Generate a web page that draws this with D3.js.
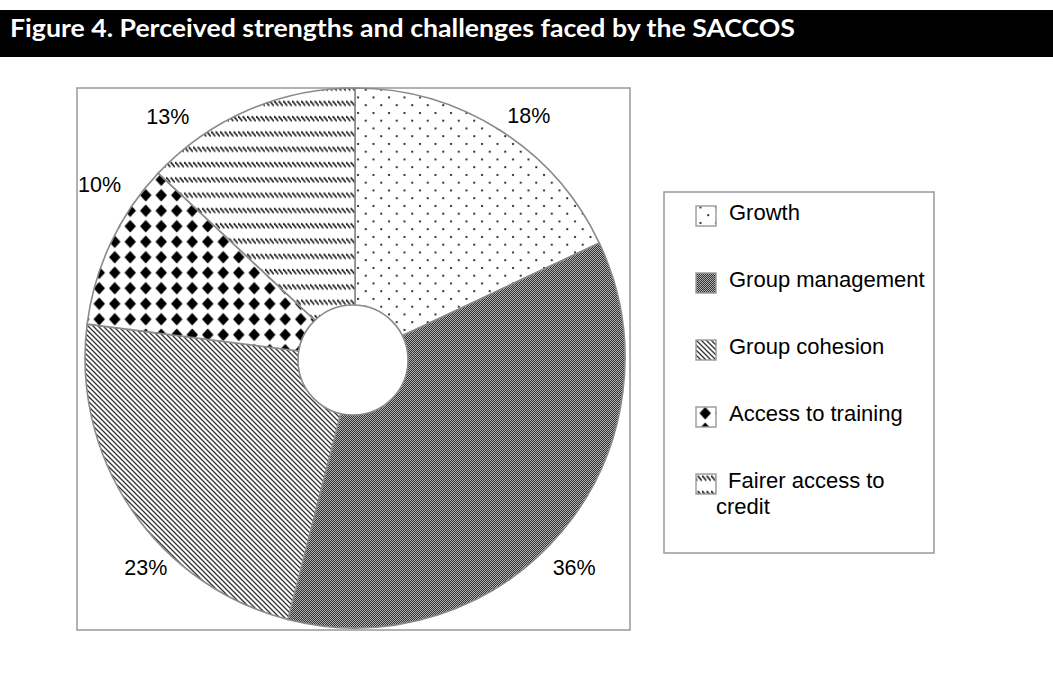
<!DOCTYPE html>
<html>
<head>
<meta charset="utf-8">
<script src="https://cdn.jsdelivr.net/npm/d3@7"></script>
<style>
  body { margin: 0; background: #fff; }
  svg { display: block; }
</style>
</head>
<body>
<script>
// chart data
var title = "Figure 4. Perceived strengths and challenges faced by the SACCOS";
var categories = ["Growth", "Group management", "Group cohesion", "Access to training", "Fairer access to credit"];
var values = [18, 36, 23, 10, 13];
var legendLines = [["Growth"], ["Group management"], ["Group cohesion"], ["Access to training"], [" Fairer access to", "credit"]];
var patternIds = ["pDots", "pGrid", "pDiag", "pDiamond", "pDash"];

var W = 1053, H = 679;
var cx = 355, cy = 358, outerR = 270, innerR = 55;
var FONT = "'Liberation Sans', Arial, sans-serif";

var svg = d3.select("body").append("svg")
    .attr("width", W)
    .attr("height", H);

var defs = svg.append("defs");

// --- fill patterns (imitating the old excel hatches) ---
var p;
p = defs.append("pattern").attr("id", "pDots").attr("patternUnits", "userSpaceOnUse")
    .attr("width", 15.5).attr("height", 15.5);
p.append("rect").attr("width", 15.5).attr("height", 15.5).attr("fill", "#fff");
p.append("circle").attr("cx", 3).attr("cy", 3).attr("r", 1.1).attr("fill", "#111");
p.append("circle").attr("cx", 10.75).attr("cy", 10.75).attr("r", 1.1).attr("fill", "#111");

p = defs.append("pattern").attr("id", "pGrid").attr("patternUnits", "userSpaceOnUse")
    .attr("width", 2).attr("height", 2);
p.append("rect").attr("width", 2).attr("height", 2).attr("fill", "#b0b0b0");
p.append("rect").attr("width", 1).attr("height", 1).attr("fill", "#333");
p.append("rect").attr("x", 1).attr("y", 1).attr("width", 1).attr("height", 1).attr("fill", "#333");

p = defs.append("pattern").attr("id", "pDiag").attr("patternUnits", "userSpaceOnUse")
    .attr("width", 5).attr("height", 5);
p.append("rect").attr("width", 5).attr("height", 5).attr("fill", "#fff");
p.append("path").attr("d", "M-1,-1L6,6M-1,4L1,6M4,-1L6,1")
    .attr("stroke", "#333").attr("stroke-width", 1.3);

p = defs.append("pattern").attr("id", "pDiamond").attr("patternUnits", "userSpaceOnUse")
    .attr("width", 15.5).attr("height", 15.5);
p.append("rect").attr("width", 15.5).attr("height", 15.5).attr("fill", "#fff");
p.append("path").attr("d", "M7.75,1.5L13.5,7.75L7.75,14L2,7.75Z").attr("fill", "#000");

p = defs.append("pattern").attr("id", "pDash").attr("patternUnits", "userSpaceOnUse")
    .attr("width", 4.5).attr("height", 15.3);
p.append("rect").attr("width", 4.5).attr("height", 15.3).attr("fill", "#fff");
p.append("path").attr("d", "M0.2,3L4.4,8").attr("stroke", "#222").attr("stroke-width", 1.6);

// --- title band ---
svg.append("rect")
    .attr("x", 0).attr("y", 10)
    .attr("width", W).attr("height", 47)
    .attr("fill", "#000");
svg.append("text")
    .attr("x", 10).attr("y", 37)
    .attr("textLength", 785)
    .attr("lengthAdjust", "spacingAndGlyphs")
    .attr("font-family", "Lato, 'Open Sans', sans-serif")
    .attr("font-weight", "bold")
    .attr("font-size", 25)
    .attr("fill", "#fff")
    .text(title);

// --- plot area frame ---
svg.append("rect")
    .attr("x", 77).attr("y", 88)
    .attr("width", 553).attr("height", 542)
    .attr("fill", "#fff")
    .attr("stroke", "#999")
    .attr("stroke-width", 1.5);

// --- pie ---
var pie = d3.pie().sort(null).value(function(d) { return d; });
var arcs = pie(values);
var arc = d3.arc().innerRadius(0).outerRadius(outerR);

var g = svg.append("g").attr("transform", "translate(" + cx + "," + cy + ")");

g.selectAll("path.slice")
    .data(arcs)
    .enter()
    .append("path")
    .attr("class", "slice")
    .attr("d", arc)
    .attr("fill", function(d, i) { return "url(#" + patternIds[i] + ")"; })
    .attr("stroke", "#8a8a8a")
    .attr("stroke-width", 1.6);

// white hole in the middle
g.append("circle")
    .attr("cx", -2).attr("cy", 2)
    .attr("r", innerR)
    .attr("fill", "#fff")
    .attr("stroke", "#8a8a8a")
    .attr("stroke-width", 1.6);

// percent labels sit outside the slices, pushed into the frame corners
var total = d3.sum(values);
var labelArc = d3.arc().innerRadius(300).outerRadius(300);
var labelNudge = [[13, 11], [-12, 19], [39, 41], [16, -45], [-68, 34]];

g.selectAll("text.pct")
    .data(arcs)
    .enter()
    .append("text")
    .attr("class", "pct")
    .attr("x", function(d, i) { return labelArc.centroid(d)[0] + labelNudge[i][0]; })
    .attr("y", function(d, i) { return labelArc.centroid(d)[1] + labelNudge[i][1]; })
    .attr("text-anchor", "middle")
    .attr("dominant-baseline", "central")
    .attr("font-family", FONT)
    .attr("font-size", 21.5)
    .attr("fill", "#000")
    .text(function(d) { return Math.round(d.data / total * 100) + "%"; });

// --- legend ---
var legend = svg.append("g");
legend.append("rect")
    .attr("x", 664).attr("y", 192)
    .attr("width", 270).attr("height", 361)
    .attr("fill", "#fff")
    .attr("stroke", "#999")
    .attr("stroke-width", 1.5);

// baseline of each legend entry
var ly = d3.scalePoint().domain(categories).range([220, 488]);

var items = legend.selectAll("g.item")
    .data(categories)
    .enter()
    .append("g")
    .attr("class", "item")
    .attr("transform", function(d) { return "translate(0," + ly(d) + ")"; });

items.append("rect")
    .attr("x", 696).attr("y", -14)
    .attr("width", 20).attr("height", 20)
    .attr("fill", function(d, i) { return "url(#" + patternIds[i] + ")"; })
    .attr("stroke", "#999")
    .attr("stroke-width", 1.4);

items.each(function(d, i) {
    var t = d3.select(this).append("text")
        .attr("font-family", FONT)
        .attr("font-size", 22)
        .attr("fill", "#000")
        .attr("xml:space", "preserve");
    legendLines[i].forEach(function(line, j) {
        t.append("tspan")
            .attr("x", j === 0 ? (i === 4 ? 722 : 729) : 716)
            .attr("y", j * 26)
            .text(line);
    });
});
</script>
</body>
</html>
